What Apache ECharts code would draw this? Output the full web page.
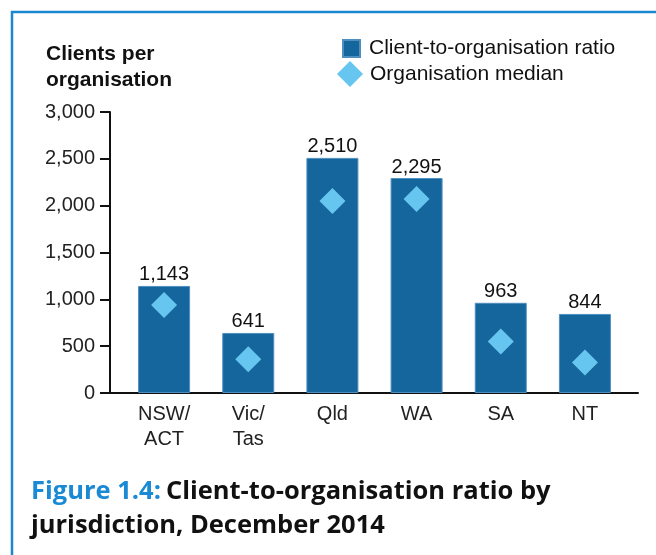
<!DOCTYPE html>
<html>
<head>
<meta charset="utf-8">
<script src="https://cdn.jsdelivr.net/npm/echarts@6/dist/echarts.min.js"></script>
<style>
  html, body { margin: 0; padding: 0; background: #fff; }
  #chart { width: 656px; height: 555px; }
</style>
</head>
<body>
<div id="chart"></div>
<script>
// jurisdictions and values
var categories = ['NSW/\nACT', 'Vic/\nTas', 'Qld', 'WA', 'SA', 'NT'];
var ratioValues = [1143, 641, 2510, 2295, 963, 844];
var medianValues = [940, 360, 2050, 2070, 550, 325];
var yTicks = [0, 500, 1000, 1500, 2000, 2500, 3000];

var barBlue = '#15669c';
var lightBlue = '#67c6ef';
var frameBlue = '#1b87cf';
var txtFont = '"Liberation Sans", Arial, sans-serif';

var chart = echarts.init(document.getElementById('chart'), null, { renderer: 'canvas' });

function fmt(v) {
    return v.toLocaleString('en-US');
}

chart.setOption({
    animation: false,
    backgroundColor: '#fff',
    title: [
        {
            text: 'Clients per\norganisation',
            left: 41,
            top: 36,
            textStyle: { fontFamily: txtFont, fontSize: 21, fontWeight: 'bold', color: '#111', lineHeight: 26 }
        },
        {
            text: '{a|Figure 1.4:} {b|Client-to-organisation ratio by}\n{b|jurisdiction, December 2014}',
            left: 26,
            top: 470,
            textStyle: {
                rich: {
                    a: { fontFamily: '"Open Sans", sans-serif', fontSize: 25.5, fontWeight: 'bold', color: '#1a8ad4', lineHeight: 34 },
                    b: { fontFamily: '"Open Sans", sans-serif', fontSize: 25.5, fontWeight: 'bold', color: '#111', lineHeight: 34 }
                }
            }
        }
    ],
    legend: [
        {
            data: ['Client-to-organisation ratio'],
            left: 342,
            top: 38,
            padding: 0,
            itemWidth: 17,
            itemHeight: 17,
            icon: 'rect',
            selectedMode: false,
            textStyle: { fontFamily: txtFont, fontSize: 21, color: '#111', padding: [0, 0, 0, 4] }
        },
        {
            data: ['Organisation median'],
            left: 337,
            top: 61,
            padding: 0,
            itemWidth: 26,
            itemHeight: 26,
            icon: 'diamond',
            selectedMode: false,
            textStyle: { fontFamily: txtFont, fontSize: 21, color: '#111', padding: [0, 0, 14, 2] }
        }
    ],
    grid: [
        { left: 110, right: 18, top: 112, bottom: 162 },
        { left: 122, width: 505, top: 112, bottom: 162 }
    ],
    xAxis: [
        {
            type: 'category',
            gridIndex: 0,
            data: categories,
            axisLine: { lineStyle: { color: '#111', width: 2 } },
            axisTick: { show: false },
            axisLabel: { show: false }
        },
        {
            type: 'category',
            gridIndex: 1,
            data: categories,
            axisLine: { show: false },
            axisTick: { show: false },
            axisLabel: {
                fontFamily: txtFont, fontSize: 20, color: '#222',
                lineHeight: 25, margin: 9, interval: 0
            }
        }
    ],
    yAxis: [
        {
            type: 'value',
            gridIndex: 0,
            min: yTicks[0],
            max: yTicks[yTicks.length - 1],
            interval: 500,
            axisLine: { show: true, lineStyle: { color: '#111', width: 2 } },
            axisTick: { show: true, length: 10, lineStyle: { color: '#111', width: 2 } },
            splitLine: { show: false },
            axisLabel: {
                fontFamily: txtFont, fontSize: 20, color: '#222', margin: 15,
                formatter: function (v) { return fmt(v); }
            }
        },
        {
            type: 'value',
            gridIndex: 1,
            min: yTicks[0],
            max: yTicks[yTicks.length - 1],
            interval: 500,
            show: false
        }
    ],
    series: [
        {
            name: 'Client-to-organisation ratio',
            type: 'bar',
            xAxisIndex: 1,
            yAxisIndex: 1,
            barWidth: 52,
            data: ratioValues,
            itemStyle: { color: barBlue, borderColor: '#4f8fbf', borderWidth: 1 },
            label: {
                show: true,
                position: 'top',
                distance: 1,
                fontFamily: txtFont,
                fontSize: 20,
                color: '#111',
                formatter: function (p) { return fmt(p.value); }
            }
        },
        {
            name: 'Organisation median',
            type: 'scatter',
            xAxisIndex: 1,
            yAxisIndex: 1,
            symbol: 'diamond',
            symbolSize: 26,
            data: medianValues,
            itemStyle: { color: lightBlue, opacity: 1 },
            z: 5
        }
    ],
    graphic: [
        {
            type: 'polyline',
            shape: { points: [[12, 560], [12, 12], [660, 12]] },
            style: { stroke: frameBlue, lineWidth: 2.5, fill: null },
            silent: true
        }
    ]
});
</script>
</body>
</html>
